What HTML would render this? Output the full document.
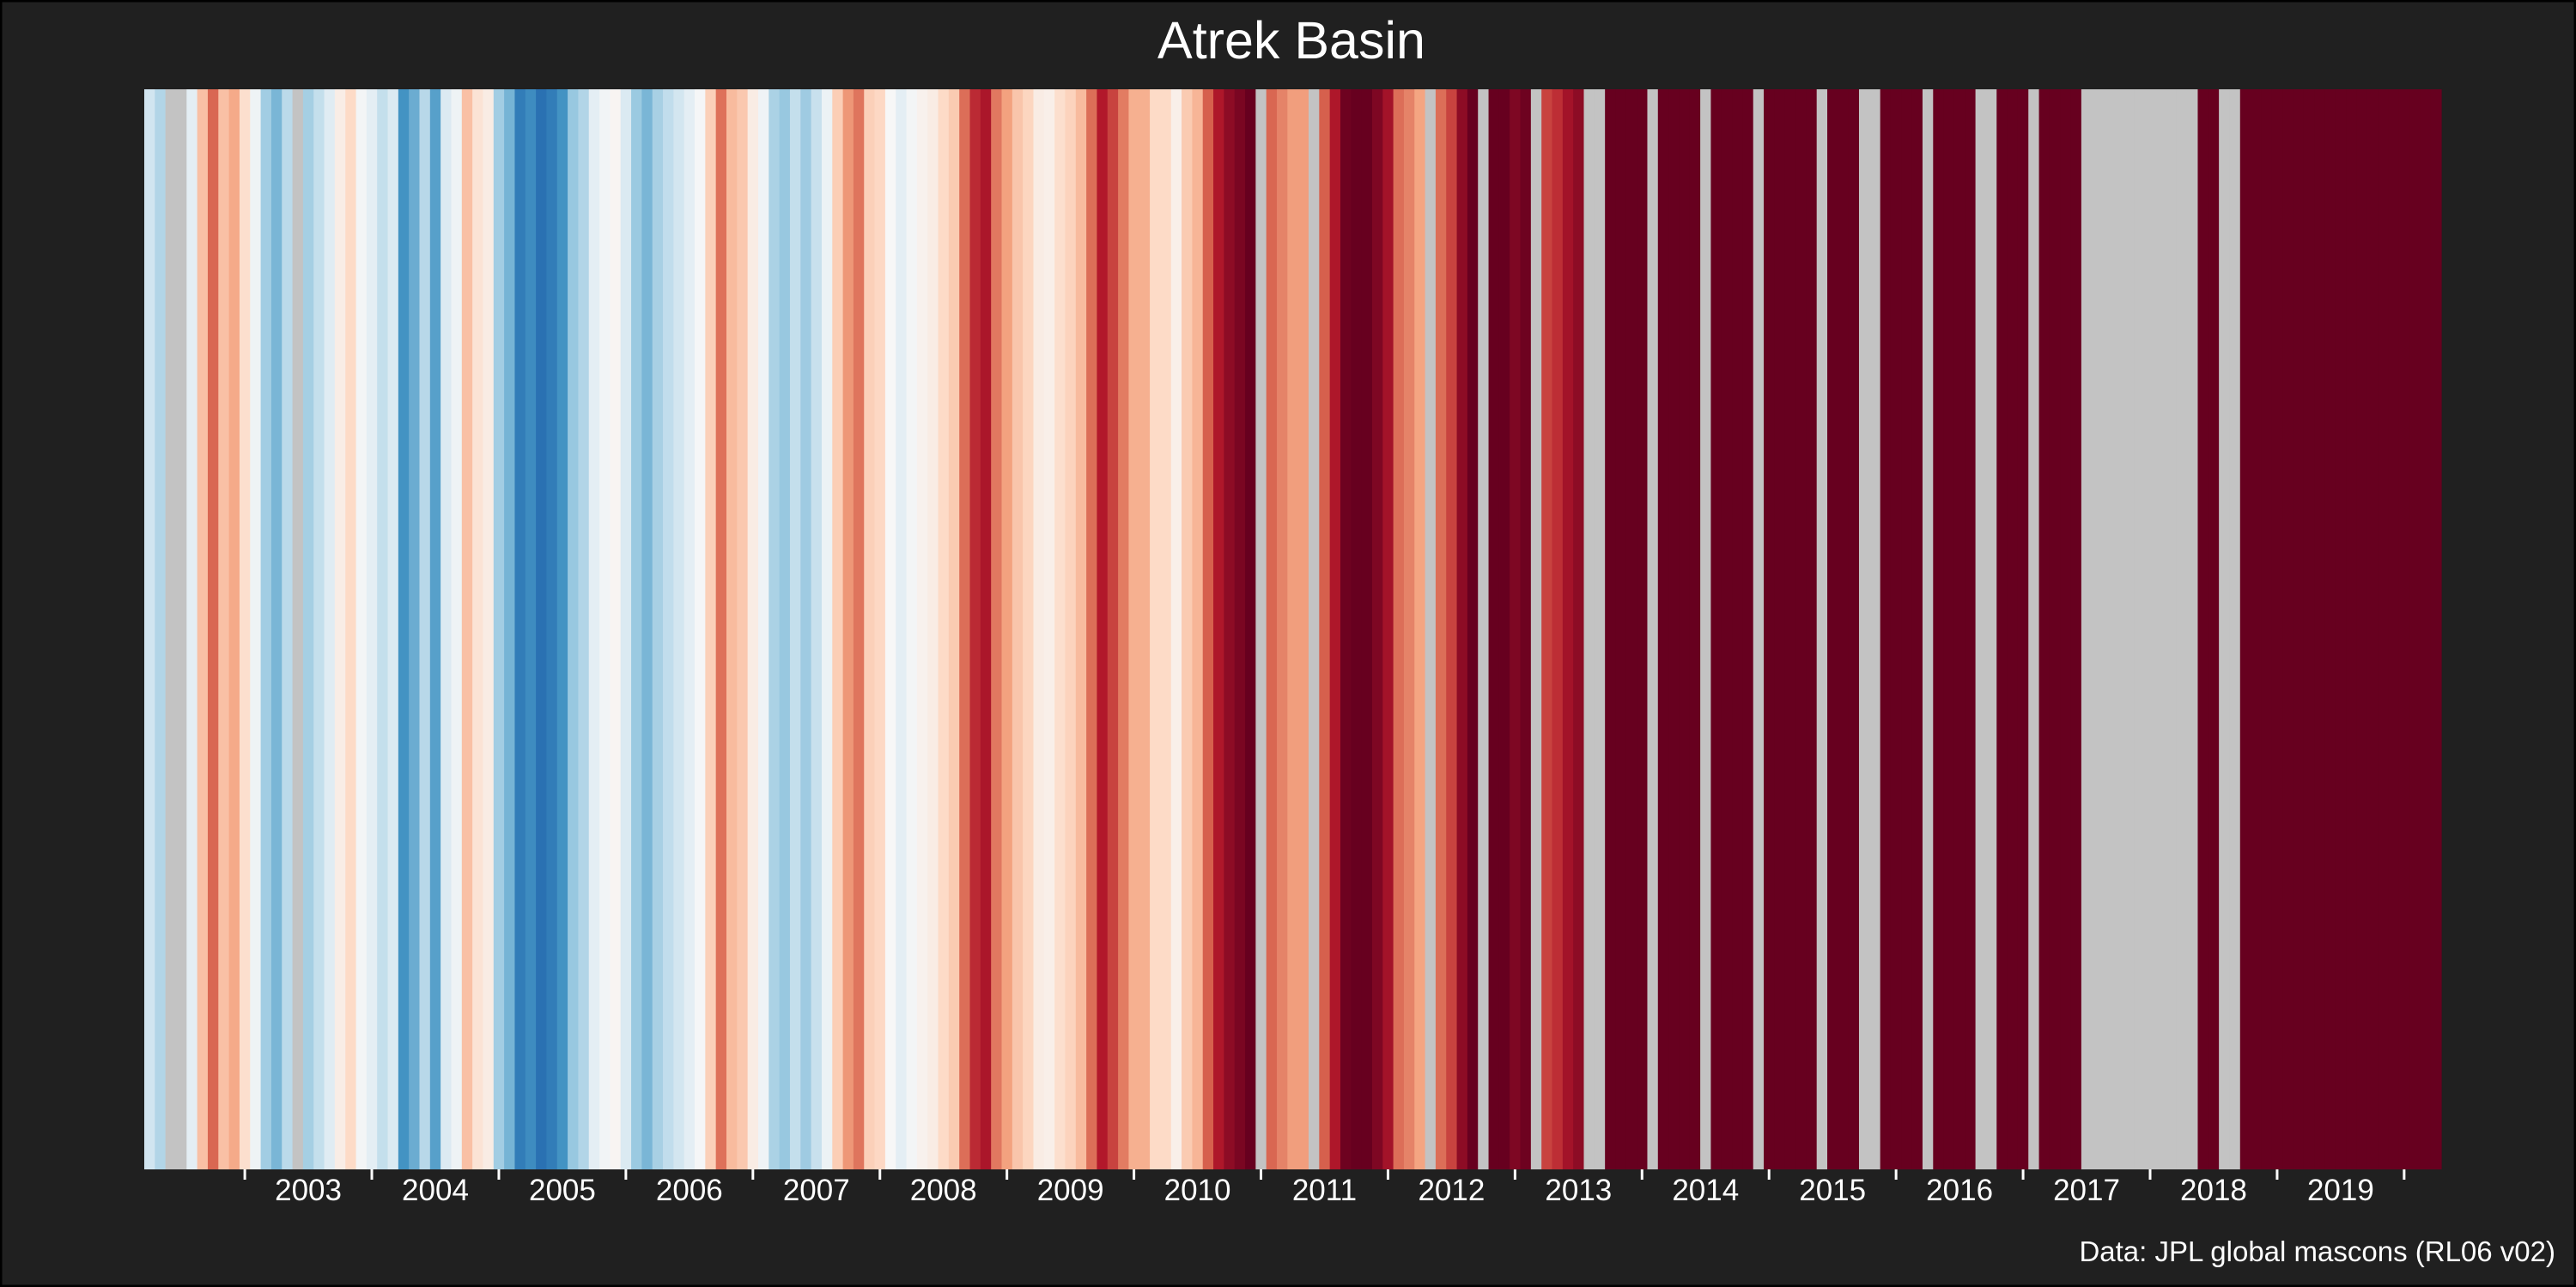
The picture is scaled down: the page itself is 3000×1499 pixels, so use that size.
<!DOCTYPE html>
<html><head><meta charset="utf-8"><style>
html,body{margin:0;padding:0;background:#202020;}
svg{display:block;}
</style></head><body>
<svg id="chart" width="3000" height="1499" xmlns="http://www.w3.org/2000/svg">
<rect x="1" y="1" width="2998" height="1497" fill="#202020" stroke="#000" stroke-width="3"/>
<text x="1504" y="68" fill="#fff" font-family="Liberation Sans, sans-serif" font-size="61" text-anchor="middle">Atrek Basin</text>
<g id="stripes"></g>
<g id="xaxis"></g>
<text x="2976" y="1469" fill="#fff" font-family="Liberation Sans, sans-serif" font-size="33" text-anchor="end">Data: JPL global mascons (RL06 v02)</text>
</svg>
<script>
// first month: 2002-04; one value per month (null = missing)
const startYear = 2002, startMonth = 4;
const values = [
-0.2,-0.3,null,null,-0.1,0.3,0.58,0.3,0.38,0.17,
-0.05,-0.35,-0.46,-0.27,null,-0.34,-0.24,-0.12,0.07,0.2,
-0.02,-0.1,-0.24,-0.15,-0.6,-0.5,-0.28,-0.55,-0.14,-0.05,
0.3,0.14,0.08,-0.35,-0.47,-0.7,-0.63,-0.75,-0.7,-0.6,
-0.38,-0.3,-0.1,-0.03,0.02,-0.15,-0.37,-0.46,-0.33,-0.25,
-0.19,-0.1,-0.01,0.24,0.55,0.32,0.27,0.08,-0.04,-0.32,
-0.38,-0.24,-0.36,-0.23,-0.06,0.25,0.44,0.54,0.24,0.21,
0.0,-0.1,-0.02,0.04,0.08,0.2,0.26,0.56,0.75,0.82,
0.53,0.41,0.28,0.22,0.08,0.06,0.17,0.23,0.32,0.56,
0.8,0.68,0.52,0.36,0.36,0.2,0.2,0.06,0.26,0.34,
0.6,0.81,0.9,0.95,1,null,0.58,0.5,0.42,0.42,
null,0.6,0.81,0.98,1,1,0.94,0.84,0.56,0.5,
0.4,null,0.56,0.68,0.9,1,null,1,1,0.94,
0.98,null,0.68,0.74,0.84,0.9,null,null,1,1,
1,1,null,1,1,1,1,null,1,1,
1,1,null,1,1,1,1,1,null,1,
1,1,null,null,1,1,1,1,null,1,
1,1,1,null,null,1,1,1,null,1,
1,1,1,null,null,null,null,null,null,null,
null,null,null,null,1,1,null,null,1,1,
1,1,1,1,1,1,1,1,1,1,
1,1,1,1,1,1,1
];
const tickYears = [2003,2004,2005,2006,2007,2008,2009,2010,2011,2012,2013,2014,2015,2016,2017,2018,2019,2020];
const labelYears = [2003,2004,2005,2006,2007,2008,2009,2010,2011,2012,2013,2014,2015,2016,2017,2018,2019];

const plotLeft = 168, plotRight = 2843, plotTop = 104, plotBottom = 1362;
const monthW = (plotRight - plotLeft) / values.length;
function xMonth(m){ return plotLeft + (m + 0.5) * monthW; }
function xYear(y){ return xMonth((y - startYear) * 12 - (startMonth - 1)); }

const pal = [[5,48,97],[33,102,172],[67,147,195],[146,197,222],[209,229,240],[247,247,247],[253,219,199],[244,165,130],[214,96,77],[178,24,43],[103,0,31]];
function color(v){
  if (v === null) return '#c3c3c3';
  let t = (Math.max(-1, Math.min(1, v)) + 1) / 2 * (pal.length - 1);
  let i = Math.min(Math.floor(t), pal.length - 2), f = t - i;
  const c = pal[i].map((a, k) => Math.round(a + (pal[i+1][k] - a) * f));
  return 'rgb(' + c.join(',') + ')';
}
const NS = 'http://www.w3.org/2000/svg';
const gs = document.getElementById('stripes');
values.forEach((v, m) => {
  const r = document.createElementNS(NS, 'rect');
  
  
  r.setAttribute('x', (xMonth(m) - monthW / 2).toFixed(2));
  r.setAttribute('y', plotTop);
  r.setAttribute('width', (monthW + 0.6).toFixed(2));
  r.setAttribute('height', plotBottom - plotTop);
  r.setAttribute('fill', color(v));
  gs.appendChild(r);
});
const gx = document.getElementById('xaxis');
tickYears.forEach(y => {
  const l = document.createElementNS(NS, 'line');
  
  
  const x = xYear(y);
  l.setAttribute('x1', x); l.setAttribute('x2', x);
  l.setAttribute('y1', plotBottom); l.setAttribute('y2', plotBottom + 12);
  l.setAttribute('stroke', '#fff'); l.setAttribute('stroke-width', 3);
  gx.appendChild(l);
});
labelYears.forEach(y => {
  const t = document.createElementNS(NS, 'text');
  
  
  t.setAttribute('x', (xYear(y) + xYear(y + 1)) / 2);
  t.setAttribute('y', 1398);
  t.setAttribute('fill', '#fff');
  t.setAttribute('font-family', 'Liberation Sans, sans-serif');
  t.setAttribute('font-size', 35);
  t.setAttribute('text-anchor', 'middle');
  t.textContent = y;
  gx.appendChild(t);
});
</script>
</body></html>
